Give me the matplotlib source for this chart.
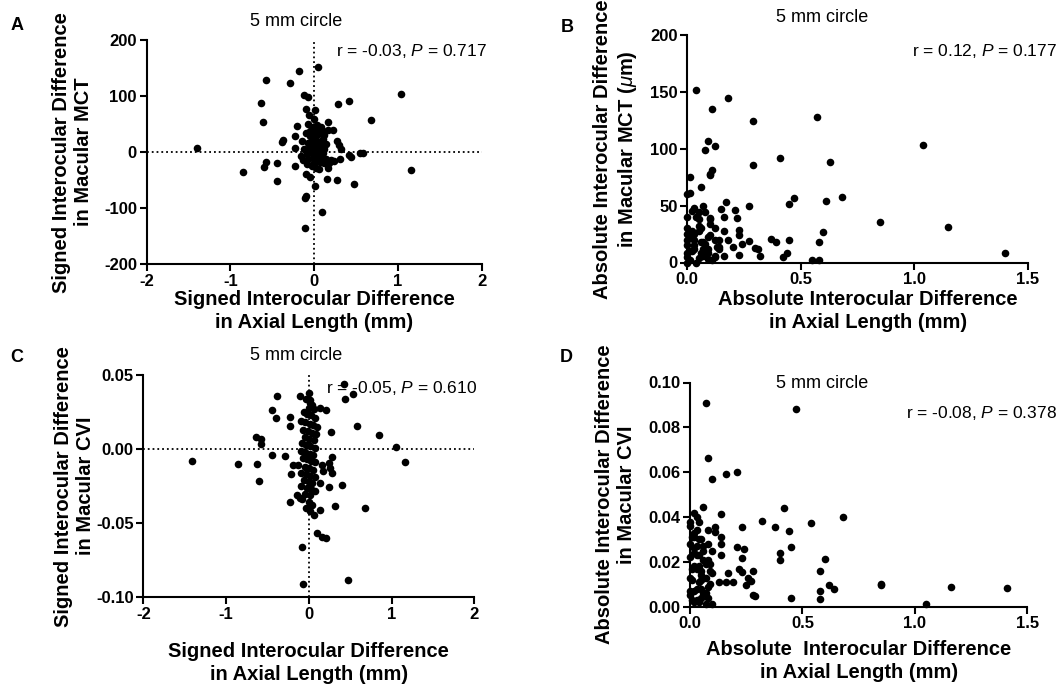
import numpy as np
import matplotlib.pyplot as plt

plt.rcParams.update({
    "font.family": ["Liberation Sans", "DejaVu Sans"],
    "axes.unicode_minus": False,
    "mathtext.fontset": "custom",
    "mathtext.rm": "Liberation Sans",
    "mathtext.it": "Liberation Sans:italic",
    "mathtext.bf": "Liberation Sans:bold",
})

# ── Per-subject interocular differences (right minus left eye) ────────────────
# MCT set: axial length difference (mm) vs macular choroidal thickness difference (um)
mct_al = [-1.40, -0.85, -0.57, -0.63, -0.61, -0.18, -0.29, 0.04, -0.12, -0.08,
          0.29, 0.41, 1.04, 0.68, 1.15, -0.45, -0.58, -0.60, -0.45, -0.23,
          -0.10, -0.05, 0.01, -0.10, -0.11, 0.09, -0.11, 0.15, 0.27, 0.47,
          0.44, 0.42, 0.55, 0.58, 0.31, 0.30, -0.39, -0.37, -0.23, -0.23,
          -0.21, -0.06, 0.01, 0.17, 0.16, 0.22, 0.27, 0.32, 0.00, -0.10,
          -0.02, 0.03, 0.08, 0.12, -0.10, -0.05, 0.00, 0.05, 0.10, 0.14,
          -0.14, -0.08, -0.03, 0.02, 0.06, 0.09, 0.12, -0.12, -0.06, -0.01,
          0.03, 0.07, 0.11, -0.16, -0.09, -0.04, 0.01, 0.05, 0.09, 0.14,
          0.20, -0.13, -0.07, -0.02, 0.03, 0.07, 0.12, 0.18, -0.09, -0.03,
          0.02, 0.06, -0.05, 0.00, 0.04, -0.07, 0.10, 0.16, 0.24, 0.00,
          0.00, 0.00, 0.00, 0.00, 0.00]
mct_diff = [8, -36, 128, 88, 54, 145, 124, 152, 102, 99,
            86, 92, 103, 58, -31, -20, -18, -27, -51, -24,
            -39, -44, -61, -78, -81, -107, -135, -47, -50, -57,
            -8, -5, -2, -2, -12, 13, 18, 21, 29, 7,
            46, 66, 75, 53, 40, 39, 19, 6, 60, 77,
            45, 48, 44, 30, 34, 28, 30, 32, 24, 14,
            20, 16, 20, 22, 18, 12, 6, 5, 8, 10,
            12, 6, -2, -6, -3, 0, 2, -4, -8, -12,
            -14, -14, -12, -10, -15, -18, -20, -20, -22, -25,
            -28, -30, 38, -20, 40, 50, 38, -28, -16, 0,
            15, 40, 25, 5, -8]

# CVI set: axial length difference (mm) vs macular choroidal vascularity index difference
cvi_al = [-1.41, -0.85, -0.62, -0.60, -0.64, -0.58, -0.58, -0.45, -0.40, -0.38,
          -0.45, -0.29, -0.23, -0.23, -0.11, 0.00, 0.02, 0.04, 0.14, 0.21,
          0.27, 0.42, 0.44, 0.54, 0.58, 1.05, 1.16, 0.28, 0.25, 0.26,
          0.28, 0.16, 0.17, 0.14, 0.24, 0.40, 0.32, 0.68, 0.14, 0.06,
          0.10, 0.16, 0.21, -0.08, -0.07, 0.47, -0.23, -0.14, -0.11, -0.19,
          -0.22, 0.85,
          -0.03, 0.02, 0.06, -0.06, -0.02, 0.03, 0.08, -0.09, -0.04, 0.01,
          0.05, 0.10, -0.07, -0.01, 0.04, 0.09, -0.05, 0.00, 0.06, -0.08,
          -0.03, 0.02, 0.07, -0.10, -0.04, 0.01, 0.05, -0.07, -0.02, 0.03,
          0.08, -0.13, -0.05, 0.00, 0.05, -0.09, -0.03, 0.02, 0.07, -0.06,
          0.00, 0.04, -0.10, -0.02, 0.03, 0.08, -0.05, 0.01, -0.08, 0.00,
          0.04, -0.03, 0.02, 0.00, 0.00]
cvi_diff = [-0.0083, -0.0101, -0.0099, -0.0212, 0.0081, 0.0070, 0.0034, 0.0266, 0.0210, 0.0356,
            -0.0038, -0.0047, 0.0216, 0.0153, 0.0356, 0.0378, 0.0330, 0.0300, 0.0280, 0.0266,
            0.0115, 0.0439, 0.0338, 0.0372, 0.0158, 0.0014, -0.0088, -0.0050, -0.0095, -0.0128,
            -0.0158, -0.0110, -0.0150, -0.0230, -0.0257, -0.0240, -0.0383, -0.0400, -0.0414, -0.0444,
            -0.0568, -0.0590, -0.0600, -0.0662, -0.0910, -0.0883, -0.0354, -0.0309, -0.0331, -0.0110,
            -0.0170, 0.0097,
            0.034, 0.031, 0.027, 0.025, 0.024, 0.023, 0.021, 0.019, 0.018, 0.017,
            0.016, 0.015, 0.013, 0.012, 0.011, 0.010, 0.008, 0.007, 0.006, 0.004,
            0.003, 0.002, 0.001, -0.001, -0.002, -0.003, -0.004, -0.006, -0.007, -0.008,
            -0.009, -0.011, -0.012, -0.013, -0.014, -0.016, -0.017, -0.018, -0.019, -0.021,
            -0.022, -0.023, -0.025, -0.026, -0.027, -0.028, -0.030, -0.031, -0.034, -0.036,
            -0.038, -0.040, -0.042, 0.028, -0.005]

stats = {
    "A": (-0.03, 0.717),
    "B": (0.12, 0.177),
    "C": (-0.05, 0.610),
    "D": (-0.08, 0.378),
}

W, H = 1064, 692
fig = plt.figure(figsize=(W / 100, H / 100), dpi=100)


def axes_px(left, top, right, bottom):
    return fig.add_axes([left / W, 1 - bottom / H, (right - left) / W, (bottom - top) / H])


def fig_text(x, y, s, **kw):
    fig.text(x / W, 1 - y / H, s, **kw)


def style(ax, xticks, xlabels, yticks, ylabels):
    for side in ("top", "right"):
        ax.spines[side].set_visible(False)
    for side in ("left", "bottom"):
        ax.spines[side].set_linewidth(1.5)
    ax.tick_params(direction="out", length=5, width=1.5, labelsize=12, pad=2)
    ax.set_xticks(xticks, xlabels, fontweight="bold")
    ax.set_yticks(yticks, ylabels, fontweight="bold")


def scatter(ax, x, y):
    ax.scatter(x, y, s=30, color="black", linewidths=0, zorder=3, clip_on=False)


def stat_label(x, y, key):
    r, p = stats[key]
    fig_text(x, y, rf"r = {r:.2f}, $P$ = {p:.3f}", ha="right", va="center", fontsize=12.5)


XLABEL_KW = dict(fontsize=14.5, fontweight="bold", linespacing=1.25)
YLABEL_KW = dict(fontsize=14.5, fontweight="bold", linespacing=1.2)

# ── A: signed MCT difference ──────────────────────────────────────────────────
axA = axes_px(146.7, 40.0, 481.7, 264.3)
axA.axhline(0, color="black", ls=":", lw=1.3, zorder=1)
axA.axvline(0, color="black", ls=":", lw=1.3, zorder=1)
scatter(axA, mct_al, mct_diff)
axA.set_xlim(-2, 2)
axA.set_ylim(-200, 200)
style(axA, [-2, -1, 0, 1, 2], ["-2", "-1", "0", "1", "2"],
      [-200, -100, 0, 100, 200], ["-200", "-100", "0", "100", "200"])
axA.set_xlabel("Signed Interocular Difference\nin Axial Length (mm)", **XLABEL_KW)
axA.xaxis.set_label_coords(0.5, -0.115)
axA.set_ylabel("Signed Interocular Difference\nin Macular MCT", **YLABEL_KW)
axA.yaxis.set_label_coords(-0.159, 0.5)

# ── B: absolute MCT difference ────────────────────────────────────────────────
axB = axes_px(687.3, 35.0, 1027.7, 262.5)
scatter(axB, np.abs(mct_al), np.abs(mct_diff))
axB.set_xlim(0, 1.5)
axB.set_ylim(0, 200)
style(axB, [0, 0.5, 1.0, 1.5], ["0.0", "0.5", "1.0", "1.5"],
      [0, 50, 100, 150, 200], ["0", "50", "100", "150", "200"])
axB.set_xlabel("Absolute Interocular Difference\nin Axial Length (mm)", **XLABEL_KW)
axB.xaxis.set_label_coords(0.53, -0.121)
axB.set_ylabel("Absolute Interocular Difference\nin Macular MCT ($\\mu$m)", **YLABEL_KW)
axB.yaxis.set_label_coords(-0.143, 0.5)

# ── C: signed CVI difference ──────────────────────────────────────────────────
axC = axes_px(143.3, 375.0, 474.3, 597.3)
axC.axhline(0, color="black", ls=":", lw=1.3, zorder=1)
axC.axvline(0, color="black", ls=":", lw=1.3, zorder=1)
scatter(axC, cvi_al, cvi_diff)
axC.set_xlim(-2, 2)
axC.set_ylim(-0.10, 0.05)
style(axC, [-2, -1, 0, 1, 2], ["-2", "-1", "0", "1", "2"],
      [-0.10, -0.05, 0.0, 0.05], ["-0.10", "-0.05", "0.00", "0.05"])
axC.set_xlabel("Signed Interocular Difference\nin Axial Length (mm)", **XLABEL_KW)
axC.xaxis.set_label_coords(0.5, -0.2)
axC.set_ylabel("Signed Interocular Difference\nin Macular CVI", **YLABEL_KW)
axC.yaxis.set_label_coords(-0.146, 0.5)

# ── D: absolute CVI difference ────────────────────────────────────────────────
axD = axes_px(690.0, 382.5, 1027.3, 606.7)
scatter(axD, np.abs(cvi_al), np.abs(cvi_diff))
axD.set_xlim(0, 1.5)
axD.set_ylim(0, 0.10)
style(axD, [0, 0.5, 1.0, 1.5], ["0.0", "0.5", "1.0", "1.5"],
      [0, 0.02, 0.04, 0.06, 0.08, 0.10], ["0.00", "0.02", "0.04", "0.06", "0.08", "0.10"])
axD.set_xlabel("Absolute  Interocular Difference\nin Axial Length (mm)", **XLABEL_KW)
axD.xaxis.set_label_coords(0.5, -0.15)
axD.set_ylabel("Absolute Interocular Difference\nin Macular CVI", **YLABEL_KW)
axD.yaxis.set_label_coords(-0.159, 0.5)

# titles, stats and panel letters
for x, y in [(296, 22), (822, 18), (296, 356), (822, 384)]:
    fig_text(x, y, "5 mm circle", ha="center", va="center", fontsize=13)
stat_label(487, 51, "A")
stat_label(1057, 51, "B")
stat_label(477, 388, "C")
stat_label(1057, 413, "D")
for x, y, s in [(17, 26, "A"), (567, 28, "B"), (17, 357, "C"), (566, 357, "D")]:
    fig_text(x, y, s, ha="center", va="center", fontsize=13, fontweight="bold")

fig.savefig("out.png", dpi=100)
